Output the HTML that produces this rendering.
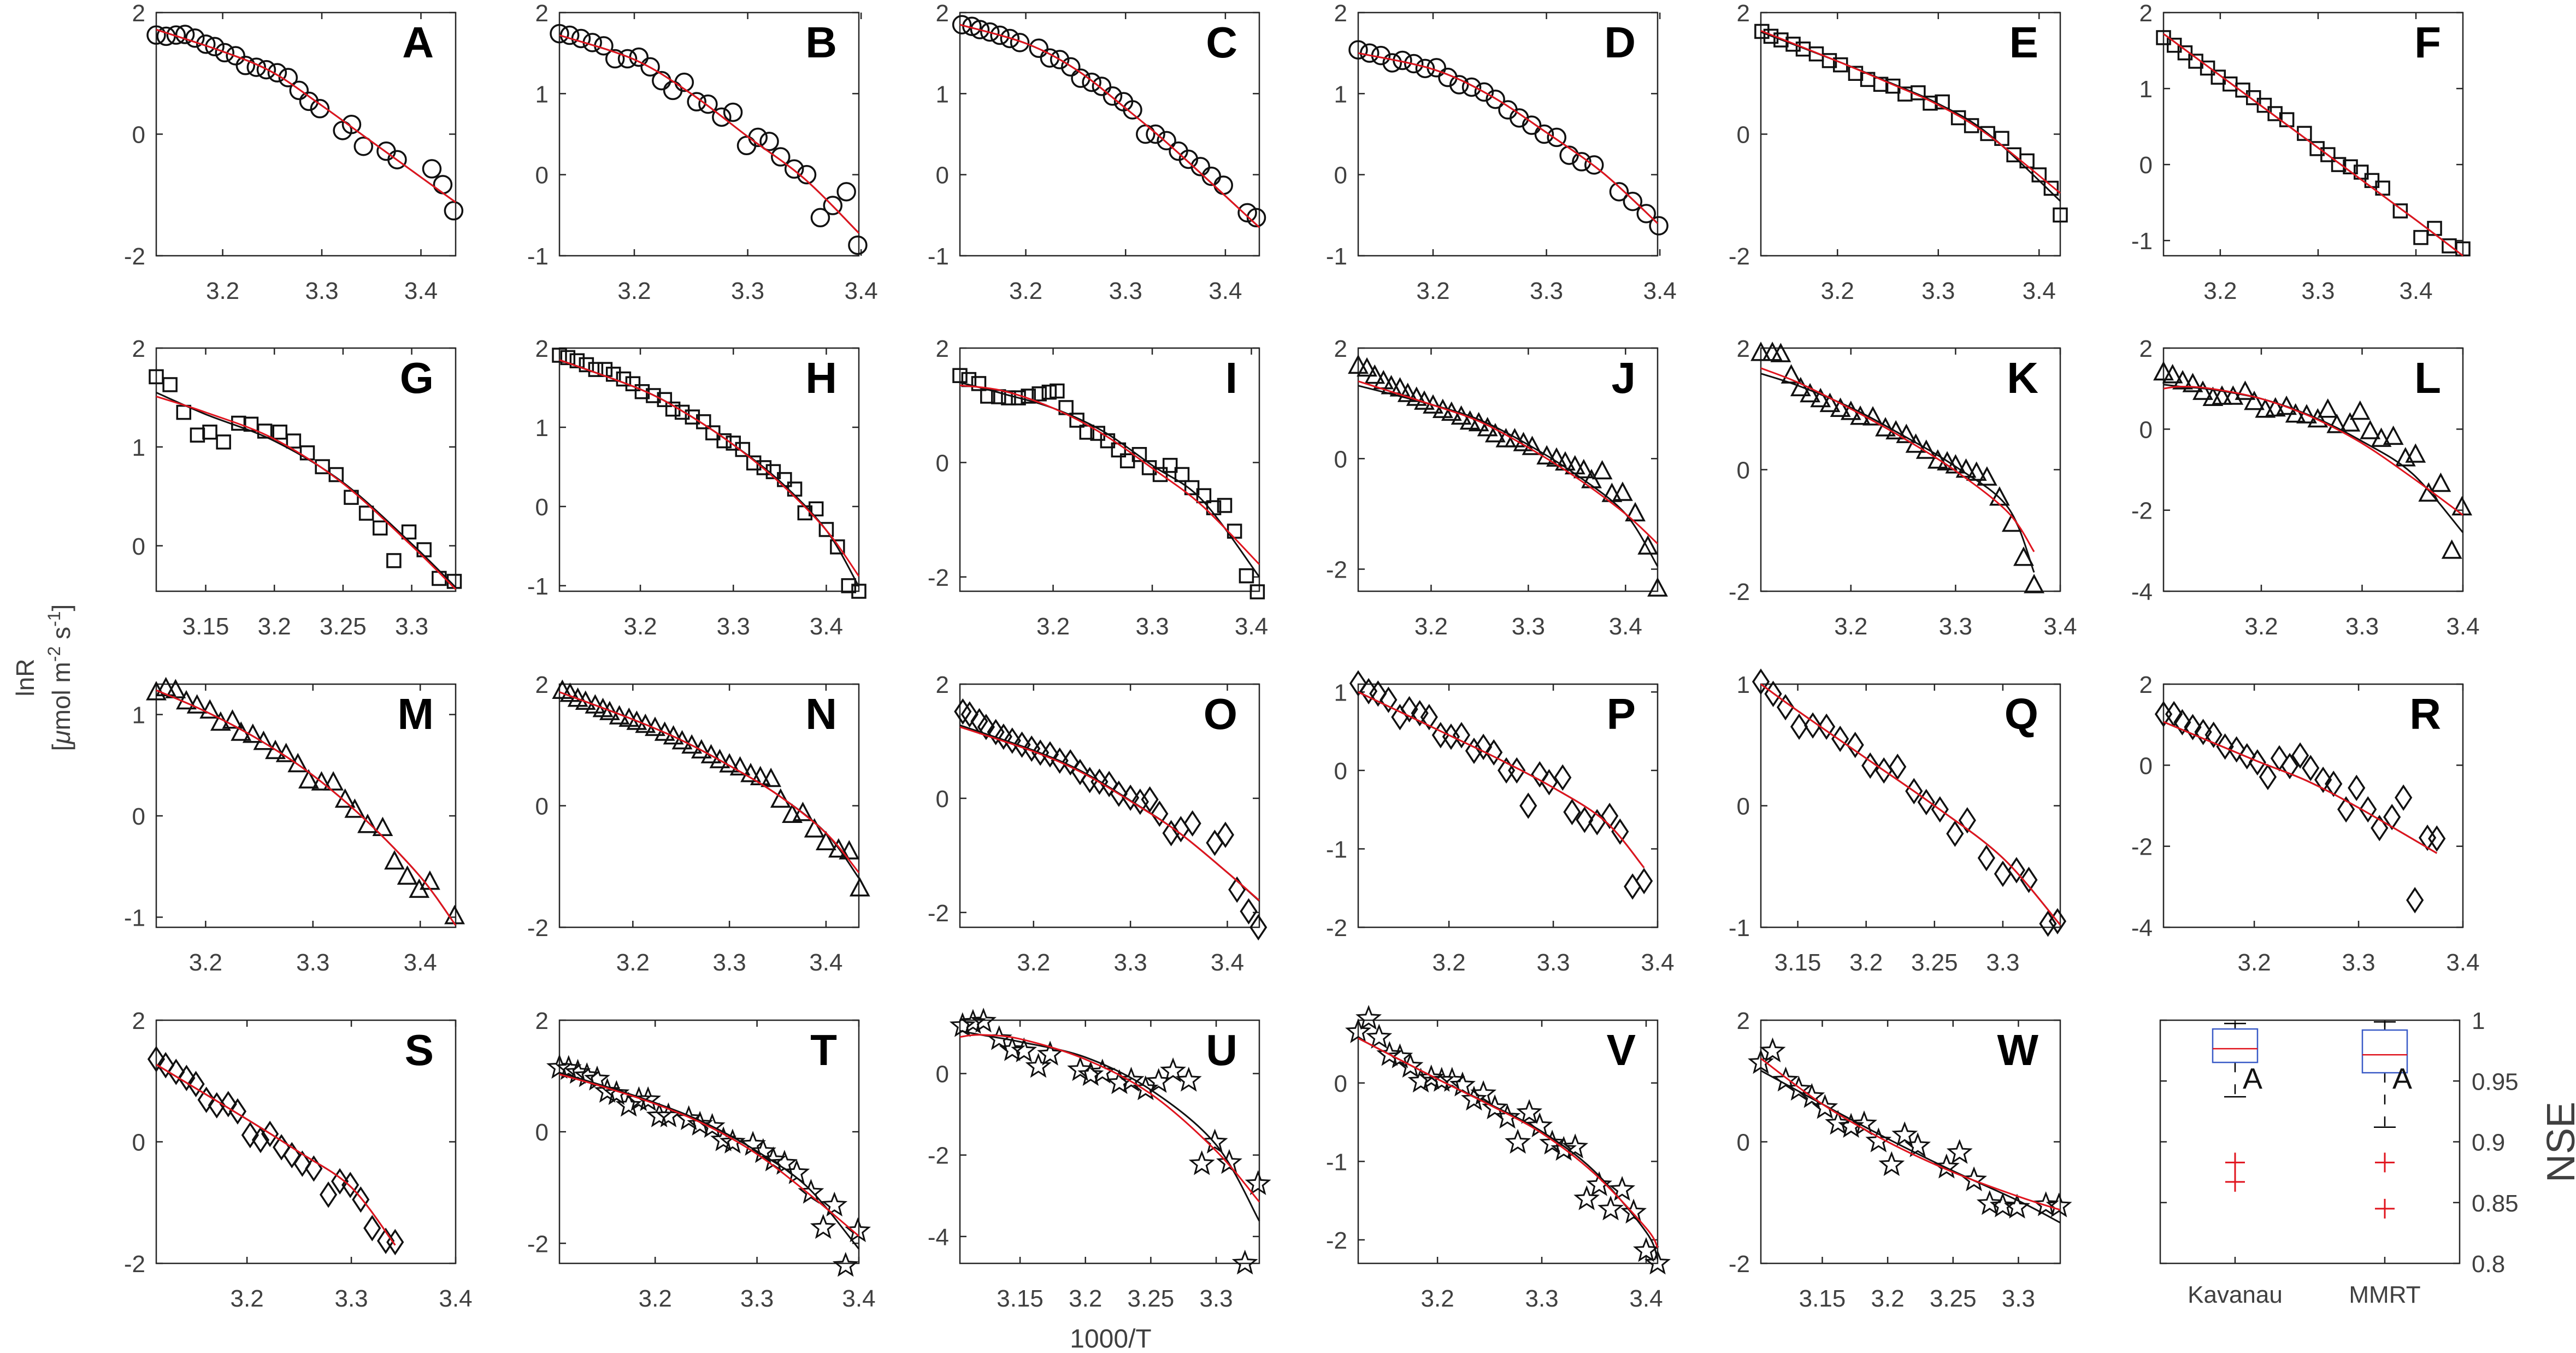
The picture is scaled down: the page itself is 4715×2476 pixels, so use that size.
<!DOCTYPE html>
<html><head><meta charset="utf-8">
<style>
html,body{margin:0;padding:0;background:#fff;}
svg{display:block;font-family:"Liberation Sans",Arial,sans-serif;}
</style></head>
<body>
<svg id="fig" xmlns="http://www.w3.org/2000/svg" width="4715" height="2476" viewBox="0 0 4715 2476">
<rect x="0" y="0" width="4715" height="2476" fill="#fff"/>
<g fill="#404040" font-size="46">
<text transform="translate(62,1240) rotate(-90)" text-anchor="middle">lnR</text>
<text transform="translate(128,1240) rotate(-90)" text-anchor="middle">[<tspan font-style="italic">μ</tspan>mol m<tspan baseline-shift="super" font-size="32">-2</tspan> s<tspan baseline-shift="super" font-size="32">-1</tspan>]</text>
</g>
<text x="2033" y="2466" text-anchor="middle" font-size="48" fill="#404040">1000/T</text>
<text transform="translate(4712,2090) rotate(-90)" text-anchor="middle" font-size="72" fill="#404040">NSE</text>
</svg>
<script>
// ---------- data (A..W) ----------
const xA=[3.133,3.143,3.153,3.162,3.172,3.183,3.192,3.202,3.213,3.223,3.234,3.244,3.255,3.266,3.277,3.287,3.298,3.321,3.330,3.342,3.365,3.376,3.411,3.422,3.433];
const yA=[1.63,1.61,1.63,1.64,1.58,1.48,1.44,1.34,1.29,1.13,1.10,1.06,1.01,0.93,0.72,0.54,0.42,0.06,0.16,-0.20,-0.28,-0.42,-0.57,-0.83,-1.26];
const fxA=[3.133,3.2,3.25,3.3,3.35,3.435]; const frA=[1.72,1.36,1.02,0.47,-0.12,-1.12]; const fbA=[1.72,1.36,1.02,0.47,-0.12,-1.12];
const xB=[3.134,3.143,3.153,3.163,3.173,3.183,3.194,3.204,3.214,3.224,3.234,3.244,3.255,3.265,3.277,3.287,3.299,3.309,3.319,3.329,3.341,3.352,3.364,3.375,3.387,3.397];
const yB=[1.74,1.72,1.68,1.63,1.59,1.43,1.43,1.45,1.33,1.16,1.04,1.14,0.90,0.87,0.71,0.77,0.36,0.46,0.41,0.22,0.07,0.00,-0.53,-0.38,-0.21,-0.87];
const fxB=[3.134,3.2,3.25,3.3,3.35,3.398]; const frB=[1.72,1.42,1.0,0.47,-0.05,-0.72]; const fbB=[1.72,1.42,1.0,0.47,-0.05,-0.72];
const xC=[3.136,3.146,3.154,3.164,3.174,3.184,3.194,3.213,3.224,3.234,3.245,3.255,3.266,3.276,3.287,3.298,3.307,3.320,3.330,3.341,3.353,3.363,3.375,3.386,3.398,3.422,3.431];
const yC=[1.85,1.83,1.79,1.76,1.72,1.68,1.63,1.56,1.44,1.42,1.33,1.19,1.14,1.09,0.97,0.90,0.80,0.50,0.50,0.42,0.29,0.19,0.10,-0.02,-0.13,-0.47,-0.53];
const fxC=[3.134,3.2,3.25,3.3,3.35,3.434]; const frC=[1.85,1.62,1.3,0.82,0.3,-0.65]; const fbC=[1.85,1.62,1.3,0.82,0.3,-0.65];
const xD=[3.134,3.144,3.154,3.164,3.173,3.183,3.193,3.203,3.213,3.223,3.234,3.245,3.255,3.266,3.276,3.287,3.298,3.309,3.320,3.331,3.342,3.364,3.376,3.388,3.399];
const yD=[1.54,1.50,1.47,1.38,1.41,1.37,1.31,1.32,1.20,1.11,1.08,1.02,0.93,0.80,0.70,0.61,0.50,0.46,0.24,0.16,0.12,-0.21,-0.33,-0.48,-0.63];
const fxD=[3.134,3.2,3.25,3.3,3.35,3.398]; const frD=[1.5,1.3,0.98,0.52,0.02,-0.6]; const fbD=[1.5,1.3,0.98,0.52,0.02,-0.6];
const xE=[3.125,3.134,3.144,3.156,3.166,3.179,3.192,3.203,3.218,3.230,3.243,3.255,3.267,3.280,3.292,3.304,3.320,3.333,3.349,3.363,3.375,3.388,3.400,3.412,3.421];
const yE=[1.69,1.61,1.55,1.48,1.40,1.32,1.21,1.14,1.00,0.90,0.82,0.79,0.66,0.68,0.51,0.53,0.27,0.14,0.01,-0.07,-0.34,-0.44,-0.67,-0.89,-1.33];
const fxE=[3.124,3.2,3.25,3.3,3.35,3.421]; const frE=[1.7,1.2,0.85,0.48,-0.02,-0.97]; const fbE=[1.68,1.2,0.86,0.5,0.0,-1.1];
const xF=[3.142,3.153,3.164,3.175,3.187,3.198,3.210,3.223,3.234,3.245,3.256,3.268,3.286,3.299,3.310,3.321,3.333,3.344,3.355,3.366,3.384,3.405,3.419,3.434,3.448];
const yF=[1.67,1.57,1.47,1.36,1.27,1.15,1.06,0.98,0.88,0.78,0.67,0.59,0.41,0.21,0.13,0.00,-0.03,-0.10,-0.21,-0.31,-0.61,-0.96,-0.84,-1.07,-1.11];
const fxF=[3.142,3.2,3.3,3.4,3.448]; const frF=[1.72,1.17,0.22,-0.73,-1.2]; const fbF=[1.72,1.17,0.22,-0.73,-1.2];
const xG=[3.114,3.124,3.134,3.144,3.153,3.163,3.174,3.183,3.193,3.204,3.214,3.224,3.235,3.245,3.256,3.267,3.277,3.287,3.298,3.309,3.320,3.331];
const yG=[1.71,1.63,1.35,1.12,1.15,1.05,1.24,1.23,1.16,1.15,1.06,0.94,0.80,0.72,0.49,0.33,0.18,-0.15,0.14,-0.04,-0.33,-0.36];
const fxG=[3.114,3.15,3.2,3.25,3.3,3.332]; const frG=[1.51,1.35,1.08,0.63,0.0,-0.44]; const fbG=[1.55,1.33,1.06,0.64,0.02,-0.42];
const xH=[3.113,3.122,3.132,3.142,3.152,3.162,3.171,3.182,3.192,3.202,3.214,3.226,3.235,3.245,3.256,3.268,3.278,3.290,3.300,3.310,3.322,3.333,3.343,3.355,3.366,3.377,3.389,3.400,3.412,3.424,3.435];
const yH=[1.91,1.88,1.84,1.79,1.73,1.73,1.67,1.61,1.55,1.45,1.40,1.35,1.23,1.19,1.13,1.07,0.93,0.83,0.80,0.72,0.55,0.49,0.44,0.34,0.22,-0.08,-0.03,-0.29,-0.51,-1.00,-1.07];
const fxH=[3.113,3.2,3.25,3.3,3.35,3.4,3.435]; const frH=[1.85,1.48,1.17,0.78,0.3,-0.3,-0.88]; const fbH=[1.85,1.48,1.17,0.78,0.32,-0.3,-1.01];
const xI=[3.106,3.115,3.125,3.134,3.145,3.155,3.165,3.175,3.186,3.196,3.204,3.213,3.224,3.234,3.245,3.255,3.266,3.275,3.287,3.297,3.308,3.318,3.330,3.340,3.352,3.362,3.373,3.383,3.395,3.406];
const yI=[1.52,1.45,1.38,1.16,1.15,1.13,1.13,1.16,1.20,1.23,1.25,0.96,0.74,0.53,0.51,0.38,0.22,0.03,0.14,-0.09,-0.21,-0.05,-0.21,-0.44,-0.58,-0.79,-0.75,-1.20,-1.98,-2.26];
const fxI=[3.106,3.15,3.2,3.25,3.3,3.35,3.408]; const frI=[1.35,1.25,0.95,0.5,-0.1,-0.75,-1.78]; const fbI=[1.4,1.2,0.95,0.55,-0.05,-0.65,-2.0];
const xJ=[3.125,3.134,3.142,3.151,3.159,3.168,3.176,3.185,3.193,3.202,3.212,3.221,3.231,3.240,3.249,3.258,3.266,3.277,3.286,3.295,3.304,3.319,3.329,3.338,3.348,3.357,3.365,3.376,3.386,3.397,3.410,3.423,3.433];
const yJ=[1.68,1.63,1.50,1.40,1.31,1.27,1.17,1.10,1.03,0.96,0.88,0.83,0.76,0.67,0.64,0.55,0.44,0.35,0.35,0.28,0.21,0.04,0.00,-0.07,-0.14,-0.21,-0.39,-0.23,-0.64,-0.62,-0.99,-1.59,-2.35];
const fxJ=[3.125,3.2,3.25,3.3,3.35,3.4,3.433]; const frJ=[1.40,0.98,0.67,0.2,-0.35,-1.0,-1.54]; const fbJ=[1.32,0.98,0.7,0.25,-0.3,-1.0,-1.95];
const xK=[3.114,3.125,3.133,3.143,3.152,3.161,3.171,3.180,3.190,3.200,3.209,3.221,3.233,3.243,3.253,3.262,3.272,3.283,3.292,3.300,3.310,3.320,3.330,3.342,3.354,3.365,3.375];
const yK=[1.92,1.92,1.90,1.55,1.34,1.24,1.16,1.08,1.00,0.95,0.87,0.86,0.68,0.63,0.57,0.41,0.31,0.15,0.12,0.07,0.00,-0.05,-0.13,-0.46,-0.89,-1.45,-1.90];
const fxK=[3.114,3.15,3.2,3.25,3.3,3.35,3.375]; const frK=[1.67,1.43,1.0,0.52,-0.02,-0.7,-1.35]; const fbK=[1.58,1.38,1.02,0.56,0.05,-0.62,-1.69];
const xL=[3.103,3.112,3.122,3.132,3.142,3.152,3.161,3.172,3.184,3.193,3.204,3.214,3.225,3.234,3.245,3.256,3.266,3.275,3.288,3.298,3.308,3.319,3.331,3.343,3.353,3.366,3.378,3.389,3.399];
const yL=[1.40,1.33,1.18,1.11,0.92,0.77,0.80,0.80,0.92,0.67,0.48,0.51,0.55,0.36,0.34,0.24,0.48,0.10,0.14,0.43,-0.05,-0.24,-0.19,-0.72,-0.63,-1.59,-1.35,-3.00,-1.93];
const fxL=[3.103,3.12,3.15,3.2,3.25,3.3,3.35,3.4]; const frL=[1.0,1.05,1.0,0.75,0.3,-0.35,-1.2,-2.12]; const fbL=[1.1,1.05,0.98,0.75,0.32,-0.3,-1.1,-2.55];
const xM=[3.154,3.163,3.172,3.182,3.192,3.204,3.214,3.225,3.233,3.244,3.254,3.265,3.275,3.286,3.296,3.308,3.319,3.330,3.339,3.351,3.365,3.376,3.388,3.399,3.409,3.432];
const yM=[1.22,1.26,1.24,1.13,1.09,1.04,0.92,0.94,0.82,0.80,0.73,0.64,0.61,0.51,0.35,0.33,0.33,0.16,0.06,-0.09,-0.12,-0.45,-0.60,-0.73,-0.65,-0.99];
const fxM=[3.154,3.2,3.25,3.3,3.35,3.4,3.433]; const frM=[1.24,1.03,0.75,0.40,-0.05,-0.6,-1.08]; const fbM=[1.24,1.03,0.75,0.40,-0.05,-0.6,-1.08];
const xN=[3.127,3.135,3.143,3.151,3.161,3.169,3.176,3.186,3.196,3.204,3.213,3.223,3.233,3.242,3.251,3.261,3.271,3.281,3.290,3.300,3.311,3.322,3.332,3.343,3.353,3.365,3.376,3.388,3.400,3.413,3.424,3.435];
const yN=[1.89,1.84,1.76,1.71,1.65,1.59,1.54,1.47,1.43,1.38,1.33,1.28,1.20,1.14,1.06,0.99,0.91,0.83,0.75,0.68,0.63,0.52,0.47,0.44,0.10,-0.15,-0.12,-0.39,-0.60,-0.72,-0.75,-1.36];
const fxN=[3.124,3.2,3.25,3.3,3.35,3.4,3.434]; const frN=[1.87,1.42,1.08,0.66,0.18,-0.45,-1.1]; const fbN=[1.87,1.42,1.08,0.66,0.18,-0.45,-1.19];
const xO=[3.127,3.134,3.144,3.151,3.161,3.169,3.178,3.188,3.198,3.207,3.217,3.227,3.238,3.248,3.258,3.268,3.278,3.288,3.300,3.310,3.320,3.330,3.342,3.352,3.364,3.387,3.398,3.410,3.422,3.432];
const yO=[1.52,1.47,1.35,1.25,1.16,1.08,1.01,0.94,0.87,0.80,0.77,0.66,0.63,0.46,0.32,0.29,0.25,0.08,0.01,-0.06,-0.02,-0.27,-0.61,-0.54,-0.44,-0.78,-0.64,-1.60,-1.98,-2.26];
const fxO=[3.124,3.2,3.25,3.3,3.35,3.4,3.433]; const frO=[1.25,0.82,0.45,-0.05,-0.6,-1.3,-1.79]; const fbO=[1.28,0.84,0.47,-0.04,-0.6,-1.3,-1.8];
const xP=[3.113,3.123,3.132,3.142,3.153,3.162,3.172,3.181,3.192,3.202,3.212,3.224,3.233,3.243,3.255,3.265,3.276,3.287,3.296,3.309,3.318,3.330,3.342,3.354,3.364,3.376,3.387];
const yP=[1.11,1.01,0.98,0.90,0.68,0.78,0.73,0.68,0.45,0.43,0.45,0.25,0.30,0.23,0.00,0.00,-0.45,-0.05,-0.15,-0.09,-0.53,-0.63,-0.66,-0.58,-0.78,-1.48,-1.41];
const fxP=[3.113,3.2,3.25,3.3,3.35,3.387]; const frP=[1.0,0.45,0.13,-0.22,-0.65,-1.24]; const fbP=[1.0,0.45,0.13,-0.22,-0.65,-1.24];
const xQ=[3.123,3.132,3.141,3.151,3.161,3.171,3.181,3.192,3.203,3.213,3.223,3.235,3.244,3.254,3.265,3.274,3.288,3.300,3.310,3.319,3.333,3.340];
const yQ=[1.02,0.92,0.81,0.65,0.66,0.65,0.55,0.50,0.33,0.29,0.32,0.12,0.03,-0.03,-0.23,-0.12,-0.43,-0.56,-0.53,-0.61,-0.97,-0.95];
const fxQ=[3.123,3.15,3.2,3.25,3.3,3.342]; const frQ=[1.0,0.78,0.39,0.0,-0.43,-0.98]; const fbQ=[1.0,0.78,0.39,0.0,-0.43,-0.98];
const xR=[3.113,3.123,3.131,3.141,3.151,3.161,3.172,3.183,3.193,3.203,3.213,3.224,3.234,3.244,3.254,3.266,3.276,3.288,3.298,3.309,3.320,3.332,3.343,3.354,3.366,3.375];
const yR=[1.26,1.26,1.06,0.94,0.82,0.75,0.46,0.39,0.22,0.07,-0.29,0.17,-0.02,0.24,-0.07,-0.36,-0.46,-1.09,-0.56,-1.09,-1.55,-1.28,-0.80,-3.33,-1.79,-1.81];
const fxR=[3.113,3.2,3.25,3.3,3.375]; const frR=[1.07,0.13,-0.38,-1.05,-2.17]; const fbR=[1.07,0.13,-0.38,-1.05,-2.17];
const xS=[3.113,3.122,3.132,3.142,3.151,3.161,3.171,3.182,3.191,3.203,3.213,3.222,3.233,3.243,3.253,3.264,3.278,3.289,3.299,3.309,3.320,3.333,3.342];
const yS=[1.36,1.26,1.15,1.05,0.95,0.69,0.60,0.62,0.50,0.11,0.03,0.13,-0.09,-0.22,-0.36,-0.44,-0.87,-0.65,-0.71,-0.95,-1.42,-1.63,-1.65];
const fxS=[3.113,3.2,3.25,3.3,3.342]; const frS=[1.27,0.37,-0.17,-0.75,-1.7]; const fbS=[1.27,0.37,-0.17,-0.75,-1.7];
const xT=[3.106,3.115,3.124,3.133,3.143,3.153,3.162,3.174,3.184,3.193,3.204,3.213,3.233,3.244,3.256,3.267,3.276,3.296,3.306,3.316,3.327,3.339,3.353,3.365,3.376,3.387,3.399];
const yT=[1.15,1.13,1.06,1.00,0.94,0.72,0.68,0.47,0.57,0.57,0.28,0.28,0.23,0.13,0.09,-0.15,-0.19,-0.23,-0.36,-0.51,-0.57,-0.74,-1.09,-1.72,-1.32,-2.40,-1.78];
const fxT=[3.106,3.15,3.2,3.25,3.3,3.35,3.4]; const frT=[1.03,0.8,0.5,0.12,-0.4,-1.1,-1.87]; const fbT=[1.06,0.82,0.52,0.15,-0.35,-1.0,-2.1];
const xU=[3.106,3.114,3.122,3.134,3.144,3.153,3.164,3.173,3.196,3.204,3.213,3.226,3.235,3.246,3.256,3.267,3.279,3.289,3.299,3.310,3.322,3.332];
const yU=[1.17,1.25,1.28,0.85,0.58,0.55,0.17,0.47,0.09,-0.03,0.03,-0.23,-0.17,-0.38,-0.20,0.06,-0.17,-2.22,-1.69,-2.19,-4.66,-2.71];
const fxU=[3.104,3.12,3.15,3.2,3.25,3.3,3.333]; const frU=[0.9,0.95,0.85,0.35,-0.5,-1.9,-3.15]; const fbU=[1.05,0.95,0.78,0.4,-0.4,-1.75,-3.62];
const xV=[3.124,3.134,3.144,3.154,3.164,3.174,3.184,3.194,3.204,3.214,3.224,3.235,3.244,3.255,3.267,3.277,3.288,3.298,3.310,3.321,3.332,3.343,3.355,3.366,3.377,3.388,3.400,3.411];
const yV=[0.65,0.82,0.58,0.36,0.33,0.21,0.02,0.06,0.03,0.03,-0.03,-0.21,-0.14,-0.32,-0.44,-0.76,-0.38,-0.55,-0.77,-0.85,-0.82,-1.48,-1.30,-1.61,-1.36,-1.65,-2.14,-2.30];
const fxV=[3.124,3.2,3.25,3.3,3.35,3.4,3.411]; const frV=[0.57,0.05,-0.28,-0.64,-1.15,-1.85,-2.1]; const fbV=[0.57,0.05,-0.27,-0.62,-1.12,-1.9,-2.25];
const xW=[3.103,3.112,3.122,3.132,3.142,3.152,3.162,3.172,3.182,3.193,3.203,3.213,3.223,3.245,3.255,3.266,3.278,3.288,3.299,3.321,3.331];
const yW=[1.30,1.49,1.01,0.86,0.74,0.56,0.30,0.25,0.29,0.01,-0.38,0.11,-0.07,-0.42,-0.18,-0.63,-1.02,-1.06,-1.08,-1.04,-1.06];
const fxW=[3.103,3.15,3.2,3.25,3.3,3.332]; const frW=[1.37,0.62,0.0,-0.5,-0.9,-1.12]; const fbW=[1.17,0.62,0.05,-0.48,-0.97,-1.33];

const xt1=['3.2','3.3','3.4'];
const xt2=['3.15','3.2','3.25','3.3'];

// box chart data
const boxCategories=['Kavanau','MMRT'];
const boxWhiskerHi=[0.9973,0.9986];
const boxQ3=[0.9928,0.9919];
const boxMedian=[0.9766,0.9716];
const boxQ1=[0.9653,0.9568];
const boxWhiskerLo=[0.937,0.912];
const boxOutliers=[[0.883,0.867],[0.883,0.845]];
const boxLetters=['A','A'];
const boxLetterY=[0.9435,0.9435];
const nseTicks=['0.8','0.85','0.9','0.95','1'];

// ---------- layout ----------
const colL=[286,1024,1757,2486,3223,3960];
const rowT=[23,637,1252,1867];
const PW=548, PH=445;

const panels=[
 {id:'A',c:0,r:0,xl:[3.133,3.435],yl:[-2,2],xt:xt1,yt:[-2,0,2],m:'circle',x:xA,y:yA,fx:fxA,fr:frA,fb:fbA},
 {id:'B',c:1,r:0,xl:[3.134,3.398],yl:[-1,2],xt:xt1,yt:[-1,0,1,2],m:'circle',x:xB,y:yB,fx:fxB,fr:frB,fb:fbB},
 {id:'C',c:2,r:0,xl:[3.134,3.434],yl:[-1,2],xt:xt1,yt:[-1,0,1,2],m:'circle',x:xC,y:yC,fx:fxC,fr:frC,fb:fbC},
 {id:'D',c:3,r:0,xl:[3.134,3.398],yl:[-1,2],xt:xt1,yt:[-1,0,1,2],m:'circle',x:xD,y:yD,fx:fxD,fr:frD,fb:fbD},
 {id:'E',c:4,r:0,xl:[3.124,3.421],yl:[-2,2],xt:xt1,yt:[-2,0,2],m:'square',x:xE,y:yE,fx:fxE,fr:frE,fb:fbE},
 {id:'F',c:5,r:0,xl:[3.142,3.448],yl:[-1.2,2],xt:xt1,yt:[-1,0,1,2],m:'square',x:xF,y:yF,fx:fxF,fr:frF,fb:fbF},
 {id:'G',c:0,r:1,xl:[3.114,3.332],yl:[-0.46,2],xt:xt2,yt:[0,1,2],m:'square',x:xG,y:yG,fx:fxG,fr:frG,fb:fbG},
 {id:'H',c:1,r:1,xl:[3.113,3.435],yl:[-1.07,2],xt:xt1,yt:[-1,0,1,2],m:'square',x:xH,y:yH,fx:fxH,fr:frH,fb:fbH},
 {id:'I',c:2,r:1,xl:[3.106,3.408],yl:[-2.25,2],xt:xt1,yt:[-2,0,2],m:'square',x:xI,y:yI,fx:fxI,fr:frI,fb:fbI},
 {id:'J',c:3,r:1,xl:[3.125,3.433],yl:[-2.4,2],xt:xt1,yt:[-2,0,2],m:'triangle',x:xJ,y:yJ,fx:fxJ,fr:frJ,fb:fbJ},
 {id:'K',c:4,r:1,xl:[3.114,3.4],yl:[-2,2],xt:xt1,yt:[-2,0,2],m:'triangle',x:xK,y:yK,fx:fxK,fr:frK,fb:fbK},
 {id:'L',c:5,r:1,xl:[3.103,3.4],yl:[-4,2],xt:xt1,yt:[-4,-2,0,2],m:'triangle',x:xL,y:yL,fx:fxL,fr:frL,fb:fbL},
 {id:'M',c:0,r:2,xl:[3.154,3.433],yl:[-1.1,1.3],xt:xt1,yt:[-1,0,1],m:'triangle',x:xM,y:yM,fx:fxM,fr:frM,fb:fbM},
 {id:'N',c:1,r:2,xl:[3.124,3.434],yl:[-2,2],xt:xt1,yt:[-2,0,2],m:'triangle',x:xN,y:yN,fx:fxN,fr:frN,fb:fbN},
 {id:'O',c:2,r:2,xl:[3.124,3.433],yl:[-2.26,2],xt:xt1,yt:[-2,0,2],m:'diamond',x:xO,y:yO,fx:fxO,fr:frO,fb:fbO},
 {id:'P',c:3,r:2,xl:[3.113,3.4],yl:[-2,1.1],xt:xt1,yt:[-2,-1,0,1],m:'diamond',x:xP,y:yP,fx:fxP,fr:frP,fb:fbP},
 {id:'Q',c:4,r:2,xl:[3.123,3.342],yl:[-1,1],xt:xt2,yt:[-1,0,1],m:'diamond',x:xQ,y:yQ,fx:fxQ,fr:frQ,fb:fbQ},
 {id:'R',c:5,r:2,xl:[3.113,3.4],yl:[-4,2],xt:xt1,yt:[-4,-2,0,2],m:'diamond',x:xR,y:yR,fx:fxR,fr:frR,fb:fbR},
 {id:'S',c:0,r:3,xl:[3.113,3.4],yl:[-2,2],xt:xt1,yt:[-2,0,2],m:'diamond',x:xS,y:yS,fx:fxS,fr:frS,fb:fbS},
 {id:'T',c:1,r:3,xl:[3.106,3.4],yl:[-2.36,2],xt:xt1,yt:[-2,0,2],m:'star',x:xT,y:yT,fx:fxT,fr:frT,fb:fbT},
 {id:'U',c:2,r:3,xl:[3.104,3.333],yl:[-4.66,1.31],xt:xt2,yt:[-4,-2,0],m:'star',x:xU,y:yU,fx:fxU,fr:frU,fb:fbU},
 {id:'V',c:3,r:3,xl:[3.124,3.411],yl:[-2.3,0.8],xt:xt1,yt:[-2,-1,0],m:'star',x:xV,y:yV,fx:fxV,fr:frV,fb:fbV},
 {id:'W',c:4,r:3,xl:[3.103,3.332],yl:[-2,2],xt:xt2,yt:[-2,0,2],m:'star',x:xW,y:yW,fx:fxW,fr:frW,fb:fbW}
];

const NS='http://www.w3.org/2000/svg';
const svg=document.getElementById('fig');
function mk(tag,attrs,parent){const e=document.createElementNS(NS,tag);for(const k in attrs)e.setAttribute(k,attrs[k]);(parent||svg).appendChild(e);return e;}
const AX='#262626', TL='#404040';

function spline(pts){
  let d='M'+pts[0][0].toFixed(1)+','+pts[0][1].toFixed(1);
  for(let i=0;i<pts.length-1;i++){
    const p0=pts[i-1]||pts[i],p1=pts[i],p2=pts[i+1],p3=pts[i+2]||pts[i+1];
    const c1=[p1[0]+(p2[0]-p0[0])/6,p1[1]+(p2[1]-p0[1])/6];
    const c2=[p2[0]-(p3[0]-p1[0])/6,p2[1]-(p3[1]-p1[1])/6];
    d+='C'+c1[0].toFixed(1)+','+c1[1].toFixed(1)+' '+c2[0].toFixed(1)+','+c2[1].toFixed(1)+' '+p2[0].toFixed(1)+','+p2[1].toFixed(1);
  }
  return d;
}
function starPts(cx,cy,R,r){let s='';for(let i=0;i<10;i++){const a=-Math.PI/2+i*Math.PI/5;const rr=i%2?r:R;s+=(cx+rr*Math.cos(a)).toFixed(1)+','+(cy+rr*Math.sin(a)).toFixed(1)+' ';}return s;}

function drawMarker(g,type,px,py){
  let e;
  const st={fill:'none',stroke:'#111','stroke-width':3.5};
  if(type==='circle'){e=mk('circle',Object.assign({cx:px,cy:py,r:16},st),g);}
  else if(type==='square'){e=mk('rect',Object.assign({x:px-12,y:py-12,width:24,height:24},st),g);}
  else if(type==='triangle'){e=mk('polygon',Object.assign({points:`${px},${py-17} ${px-16},${py+13} ${px+16},${py+13}`},st),g);}
  else if(type==='diamond'){e=mk('polygon',Object.assign({points:`${px},${py-21} ${px+14},${py} ${px},${py+21} ${px-14},${py}`},st),g);}
  else {e=mk('polygon',Object.assign({points:starPts(px,py,21,9)},st,{'stroke-width':3}),g);}
  return e;
}

panels.forEach(p=>{
  const L=colL[p.c], T=rowT[p.r], R=L+PW, B=T+PH;
  const sx=v=>L+(v-p.xl[0])/(p.xl[1]-p.xl[0])*PW;
  const sy=v=>B-(v-p.yl[0])/(p.yl[1]-p.yl[0])*PH;
  const g=mk('g',{});
  
  
  // frame
  const fr=mk('rect',{x:L,y:T,width:PW,height:PH,fill:'none',stroke:AX,'stroke-width':2.5},g);
  
  
  // x ticks
  p.xt.forEach(s=>{
    const v=parseFloat(s), x=sx(v);
    mk('line',{x1:x,y1:B,x2:x,y2:B-12,stroke:AX,'stroke-width':2.5},g);
    mk('line',{x1:x,y1:T,x2:x,y2:T+12,stroke:AX,'stroke-width':2.5},g);
    const t=mk('text',{x:x,y:B+79,'text-anchor':'middle','font-size':44,fill:TL},g);
    
    
    t.textContent=s;
  });
  p.yt.forEach(v=>{
    const y=sy(v);
    mk('line',{x1:L,y1:y,x2:L+12,y2:y,stroke:AX,'stroke-width':2.5},g);
    mk('line',{x1:R,y1:y,x2:R-12,y2:y,stroke:AX,'stroke-width':2.5},g);
    const t=mk('text',{x:L-20,y:y+16,'text-anchor':'end','font-size':44,fill:TL},g);
    
    
    t.textContent=String(v);
  });
  // fits
  const pb=mk('path',{d:spline(p.fx.map((v,i)=>[sx(v),sy(p.fb[i])])),fill:'none',stroke:'#111','stroke-width':3},g);
  
  
  // markers
  p.x.forEach((v,i)=>{
    const e=drawMarker(g,p.m,sx(v),sy(p.y[i]));
    
    
  });
  const pr=mk('path',{d:spline(p.fx.map((v,i)=>[sx(v),sy(p.fr[i])])),fill:'none',stroke:'#e0141e','stroke-width':3},g);
  
  
  const lab=mk('text',{x:R-40,y:T+82,'text-anchor':'end','font-size':80,'font-weight':'bold',fill:'#000'},g);
  
  
  lab.textContent=p.id;
});

// ---------- box plot ----------
(function(){
  const L=3954,T=1867,R=4502,B=2312,W=R-L,H=B-T;
  const sx=v=>L+(v-0.5)/2*W;
  const sy=v=>B-(v-0.8)/0.2*H;
  const g=mk('g',{});
  
  
  mk('rect',{x:L,y:T,width:W,height:H,fill:'none',stroke:AX,'stroke-width':2.5},g);
  nseTicks.forEach(s=>{
    const y=sy(parseFloat(s));
    mk('line',{x1:L,y1:y,x2:L+12,y2:y,stroke:AX,'stroke-width':2.5},g);
    mk('line',{x1:R,y1:y,x2:R-12,y2:y,stroke:AX,'stroke-width':2.5},g);
    const t=mk('text',{x:R+22,y:y+16,'font-size':44,fill:TL},g);
    
    
    t.textContent=s;
  });
  boxCategories.forEach((c,i)=>{
    const x=sx(i+1), hw=41;
    mk('line',{x1:x,y1:B,x2:x,y2:B-12,stroke:AX,'stroke-width':2.5},g);
    mk('line',{x1:x,y1:T,x2:x,y2:T+12,stroke:AX,'stroke-width':2.5},g);
    const t=mk('text',{x:x,y:B+72,'text-anchor':'middle','font-size':44,fill:TL},g);
    
    
    t.textContent=c;
    // whiskers (dashed)
    mk('line',{x1:x,y1:sy(boxQ3[i]),x2:x,y2:sy(boxWhiskerHi[i]),stroke:'#000','stroke-width':2.5,'stroke-dasharray':'18,12'},g);
    mk('line',{x1:x,y1:sy(boxQ1[i]),x2:x,y2:sy(boxWhiskerLo[i]),stroke:'#000','stroke-width':2.5,'stroke-dasharray':'18,22'},g);
    mk('line',{x1:x-20,y1:sy(boxWhiskerHi[i]),x2:x+20,y2:sy(boxWhiskerHi[i]),stroke:'#000','stroke-width':2.5},g);
    mk('line',{x1:x-20,y1:sy(boxWhiskerLo[i]),x2:x+20,y2:sy(boxWhiskerLo[i]),stroke:'#000','stroke-width':2.5},g);
    const bx=mk('rect',{x:x-hw,y:sy(boxQ3[i]),width:2*hw,height:sy(boxQ1[i])-sy(boxQ3[i]),fill:'none',stroke:'#3a5bc7','stroke-width':2.5},g);
    
    
    const md=mk('line',{x1:x-hw,y1:sy(boxMedian[i]),x2:x+hw,y2:sy(boxMedian[i]),stroke:'#e0141e','stroke-width':2.5},g);
    
    
    boxOutliers[i].forEach(v=>{
      const y=sy(v);
      const o=mk('path',{d:`M${x-18},${y}H${x+18}M${x},${y-18}V${y+18}`,stroke:'#e0141e','stroke-width':3,fill:'none'},g);
      
      
    });
    const lt=mk('text',{x:x+32,y:sy(boxLetterY[i]),'text-anchor':'middle','font-size':54,fill:'#111'},g);
    
    
    lt.textContent=boxLetters[i];
  });
})();
</script>
</body></html>
